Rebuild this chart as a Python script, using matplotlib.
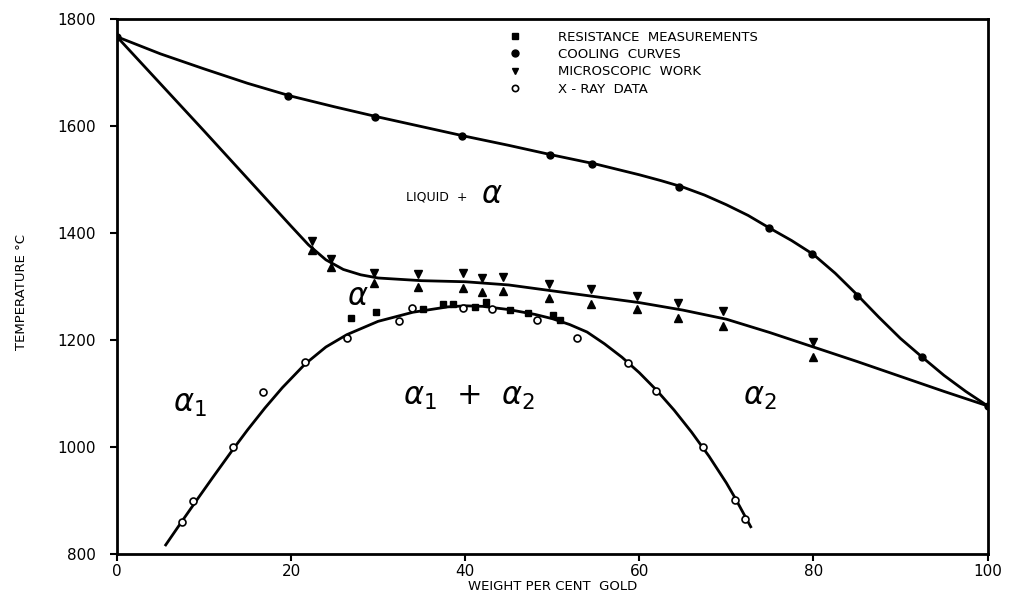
import matplotlib
matplotlib.use("Agg")
import matplotlib.pyplot as plt
from matplotlib.lines import Line2D

# Pt-Au phase diagram
# liquidus (cooling curves)
cool_x = [0, 19.6, 29.6, 39.6, 49.7, 54.6, 64.6, 74.9, 79.8, 85, 92.5, 100]
cool_t = [1767, 1656, 1617, 1581, 1546, 1529, 1486, 1409, 1361, 1282, 1168, 1077]

# drawn liquidus line
liq_x = [0, 5, 10, 15, 20, 25, 30, 35, 40, 45, 50, 55, 60, 62.5, 65, 67.5, 70,
         72.5, 75, 77.5, 80, 82.5, 85, 87.5, 90, 92.5, 95, 97.5, 100]
liq_t = [1767, 1735, 1707, 1680, 1656, 1636, 1617, 1599, 1581, 1564, 1546, 1529,
         1509, 1498, 1486, 1471, 1453, 1433, 1409, 1386, 1360, 1325, 1285, 1243,
         1203, 1168, 1134, 1104, 1077]

# drawn solidus line
sol_x = [0, 10, 20, 22, 24, 26, 28, 30, 35, 40, 45, 50, 55, 60, 65, 70, 75, 80,
         85, 90, 95, 100]
sol_t = [1767, 1591, 1413, 1378, 1350, 1332, 1322, 1316, 1311, 1309, 1303, 1292,
         1281, 1270, 1256, 1239, 1214, 1187, 1160, 1132, 1104, 1077]

# microscopic work: upper (down triangles) and lower (up triangles)
micro_x = [22.4, 24.6, 29.5, 34.6, 39.8, 41.9, 44.4, 49.6, 54.5, 59.7, 64.5, 69.6, 79.9]
micro_hi = [1386, 1352, 1325, 1323, 1325, 1316, 1318, 1305, 1295, 1282, 1269, 1254, 1196]
micro_lo = [1369, 1337, 1307, 1299, 1297, 1290, 1292, 1279, 1267, 1258, 1241, 1226, 1168]

# drawn miscibility gap line
gap_x = [5.6, 7.5, 9, 11, 13.3, 15, 17, 19, 21.6, 24, 26.4, 30, 34, 38, 40, 42,
         45, 48, 50, 52, 54, 56, 58, 60, 62, 64, 66, 68, 70, 71, 72, 72.8]
gap_t = [817, 862, 897, 943, 995, 1032, 1073, 1111, 1155, 1187, 1210, 1235, 1252,
         1262, 1264, 1263, 1257, 1248, 1240, 1229, 1215, 1193, 1168, 1139, 1106,
         1069, 1028, 983, 933, 905, 875, 851]

# resistance measurements
res_x = [26.9, 29.7, 35.2, 37.4, 38.6, 41.1, 42.4, 45.1, 47.2, 50.1, 50.9]
res_t = [1241, 1252, 1258, 1267, 1267, 1262, 1271, 1256, 1250, 1247, 1237]

# x-ray data
xray_x = [7.5, 8.7, 13.3, 16.8, 21.6, 26.4, 32.4, 33.9, 39.7, 43.1, 48.2, 52.8,
          58.7, 61.9, 67.3, 71.0, 72.1]
xray_t = [860, 899, 1000, 1103, 1159, 1204, 1236, 1260, 1260, 1258, 1237, 1204,
          1157, 1105, 1000, 901, 865]

xticks = [0, 20, 40, 60, 80, 100]
yticks = [800, 1000, 1200, 1400, 1600, 1800]

fig = plt.figure(figsize=(10.17, 5.97), dpi=100)
ax = fig.add_axes([0.115, 0.072, 0.856, 0.896])

lw = 2.0
ax.plot(liq_x, liq_t, color="black", lw=lw, zorder=2)
ax.plot(sol_x, sol_t, color="black", lw=lw, zorder=2)
ax.plot(gap_x, gap_t, color="black", lw=lw, zorder=2)

ax.plot(cool_x, cool_t, "o", color="black", ms=5, zorder=3)
ax.plot(micro_x, micro_hi, "v", color="black", ms=5.5, zorder=3)
ax.plot(micro_x, micro_lo, "^", color="black", ms=5.5, zorder=3)
ax.plot(res_x, res_t, "s", color="black", ms=4.5, zorder=3)
ax.plot(xray_x, xray_t, "o", mfc="white", mec="black", mew=1.2, ms=5, zorder=4)

ax.set_xlim(0, 100)
ax.set_ylim(800, 1800)
ax.set_xticks(xticks)
ax.set_yticks(yticks)
ax.tick_params(direction="out", length=5, width=1.5, labelsize=11)
ax.tick_params(axis="x", pad=2)
ax.tick_params(axis="y", pad=10)
for s in ax.spines.values():
    s.set_linewidth(2)

ax.set_xlabel("WEIGHT PER CENT  GOLD", fontsize=9.5, labelpad=1)
ax.set_ylabel("TEMPERATURE °C", fontsize=9.5)
ax.yaxis.set_label_coords(-0.102, 0.49)

# region labels
ax.text(33.2, 1467, "LIQUID  +", fontsize=9, va="center", ha="left")
ax.text(41.8, 1472, r"$\alpha$", fontsize=22, va="center", ha="left")
ax.text(27.7, 1282, r"$\alpha$", fontsize=22, va="center", ha="center")
ax.text(8.4, 1080, r"$\alpha_{\rm 1}$", fontsize=22, va="center", ha="center")
ax.text(40.5, 1092, r"$\alpha_{\rm 1}$  +  $\alpha_{\rm 2}$", fontsize=22,
        va="center", ha="center")
ax.text(73.8, 1092, r"$\alpha_{\rm 2}$", fontsize=22, va="center", ha="center")

handles = [
    Line2D([], [], ls="none", marker="s", color="black", ms=4.5),
    Line2D([], [], ls="none", marker="o", color="black", ms=5),
    Line2D([], [], ls="none", marker="v", color="black", ms=5),
    Line2D([], [], ls="none", marker="o", mfc="white", mec="black", mew=1.2, ms=4.5),
]
labels = ["RESISTANCE  MEASUREMENTS", "COOLING  CURVES", "MICROSCOPIC  WORK",
          "X - RAY  DATA"]
ax.legend(handles, labels, loc="upper left", bbox_to_anchor=(0.45, 0.978),
          frameon=False, fontsize=9.5, handlelength=1, handletextpad=2.75,
          labelspacing=0.32, borderpad=0, borderaxespad=0)

fig.savefig("out.png", dpi=100)
